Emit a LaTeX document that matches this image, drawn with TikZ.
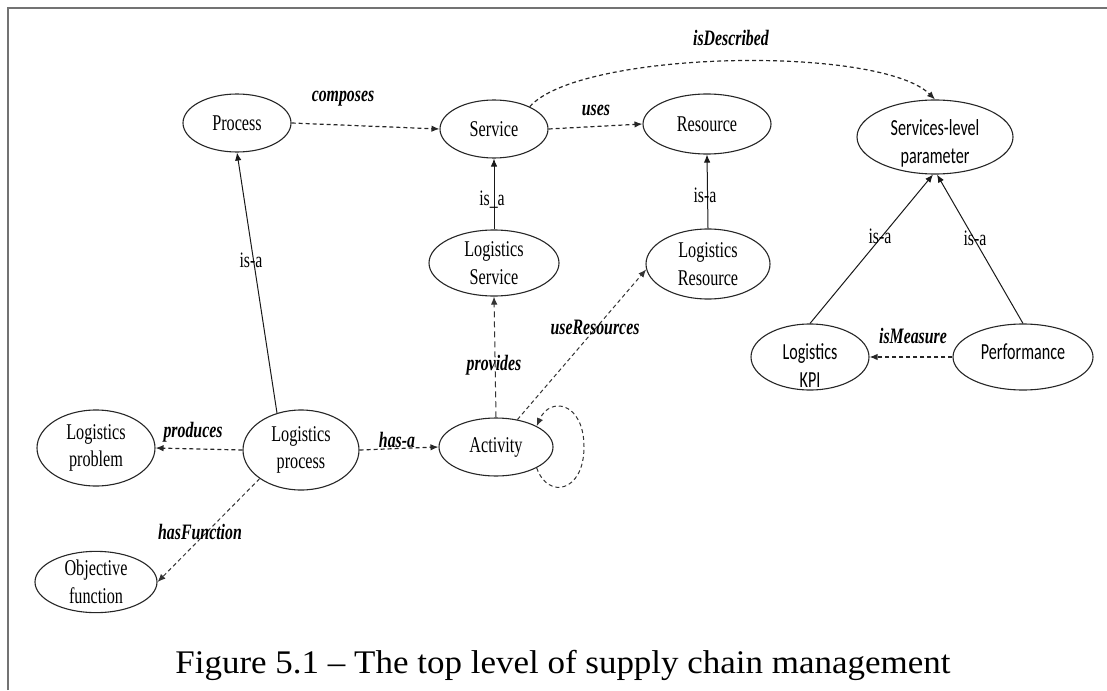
\documentclass[tikz,border=0pt]{standalone}
\usepackage{fontspec}
\usetikzlibrary{shapes.geometric,arrows.meta}
\newfontfamily\tnrfont[FakeStretch=0.72]{Liberation Serif}
\newfontfamily\sansnode[FakeStretch=0.70]{Carlito}
\newfontfamily\capfont[FakeStretch=1.06,Ligatures=TeX]{Liberation Serif}
\begin{document}
\begin{tikzpicture}[x=1pt,y=-1pt,
  ell/.style={ellipse, draw=black!85, line width=1.1pt, inner sep=0pt, align=center,
    font={\tnrfont\fontsize{22.5}{27.5}\selectfont}},
  ntext/.style={align=center, inner sep=0pt, font={\sansnode\fontsize{23}{28}\selectfont}},
  lbl/.style={inner sep=0pt, font={\tnrfont\bfseries\itshape\fontsize{22}{26}\selectfont}},
  isalbl/.style={inner sep=0pt, font={\tnrfont\fontsize{22}{26}\selectfont}},
  tipa/.style={-{Latex[length=8pt,width=6.5pt]}},
  rel/.style={tipa, draw=black!85, dash pattern=on 4pt off 3pt, line width=1.2pt},
  rellong/.style={tipa, draw=black!80, dash pattern=on 6pt off 4pt, line width=1pt},
  relthin/.style={tipa, draw=black!80, dash pattern=on 4pt off 3pt, line width=1pt},
  sol/.style={tipa, draw=black!90, line width=1pt},
  frameline/.style={draw=black!55, line width=2pt}
]
\useasboundingbox (0,0) rectangle (1107,690);
\draw[frameline] (8,690) -- (8,8) -- (1107,8);

% nodes
\node[ell, minimum width=108pt, minimum height=58pt] (proc) at (237,123) {Process};
\node[ell, minimum width=108pt, minimum height=58pt] (serv) at (494,129) {Service};
\node[ell, minimum width=128pt, minimum height=60pt] (res) at (707,124) {Resource};
\node[ell, minimum width=156pt, minimum height=74pt] (slp) at (935,137) {};
\node[ntext] (slpt) at (935,143) {Services-level\\parameter};
\node[ell, minimum width=130pt, minimum height=66pt] (lserv) at (494,263) {Logistics\\Service};
\node[ell, minimum width=124pt, minimum height=70pt] (lres) at (708,264) {Logistics\\Resource};
\node[ell, minimum width=118pt, minimum height=66pt] (kpi) at (810,357) {};
\node[ntext] (kpit) at (810,366) {Logistics\\KPI};
\node[ell, minimum width=140pt, minimum height=66pt] (perf) at (1023,357) {};
\node[ntext] (perft) at (1023,352) {Performance};
\node[ell, minimum width=118pt, minimum height=76pt] (lprob) at (96,448) {Logistics\\problem};
\node[ell, minimum width=116pt, minimum height=80pt] (lproc) at (301,450) {Logistics\\process};
\node[ell, minimum width=114pt, minimum height=58pt] (act) at (496,447) {Activity};
\node[ell, minimum width=122pt, minimum height=56pt] (ofun) at (96,582) {Objective\\function};

% is-a links
\draw[sol] (lserv.north) -- (serv.south);
\draw[sol] (lres.north) -- (res.south);
\draw[sol] (kpi.north) -- ([xshift=-2pt]slp.south);
\draw[sol] (perf.north) -- ([xshift=2pt]slp.south);
\draw[sol] (lproc.123) -- (proc.south);

% relations
\draw[rel] (proc.east) -- (serv.west);
\draw[rel] (serv.east) -- (res.west);
\draw[rel] (serv.32) .. controls (580,50) and (880,45) .. (slp.north);
\draw[rel] (perf.west) -- (kpi.east);
\draw[rellong] (act.north) -- (lserv.south);
\draw[relthin] (act.52) -- (lres.185);
\draw[rel] (lproc.west) -- (lprob.east);
\draw[rel] (lproc.east) -- (act.west);
\draw[relthin] (lproc.south west) -- (ofun.east);
\draw[relthin] (act.south east) .. controls (548,500) and (584,492) .. (584,447)
  .. controls (584,402) and (550,396) .. (act.north east);

% labels
\node[lbl] (l1) at (343,99) {composes};
\node[lbl] (l2) at (596,110) {uses};
\node[lbl] (l3) at (731,38) {isDescribed};
\node[isalbl] (l4) at (492,200) {is\_a};
\node[isalbl] (l5) at (705,195) {is-a};
\node[isalbl] (l6) at (251,260) {is-a};
\node[isalbl] (l7) at (880,236) {is-a};
\node[isalbl] (l8) at (975,238) {is-a};
\node[lbl] (l9) at (913,336) {isMeasure};
\node[lbl] (l10) at (494,365) {provides};
\node[lbl] (l11) at (595,327) {useResources};
\node[lbl] (l12) at (193,432) {produces};
\node[lbl] (l13) at (397,440) {has-a};
\node[lbl] (l14) at (200,532) {hasFunction};

% caption
\node[anchor=base, inner sep=0pt, font={\capfont\fontsize{33}{38}\selectfont}] (cap) at (563,673)
  {Figure 5.1 – The top level of supply chain management};
\end{tikzpicture}
\end{document}
